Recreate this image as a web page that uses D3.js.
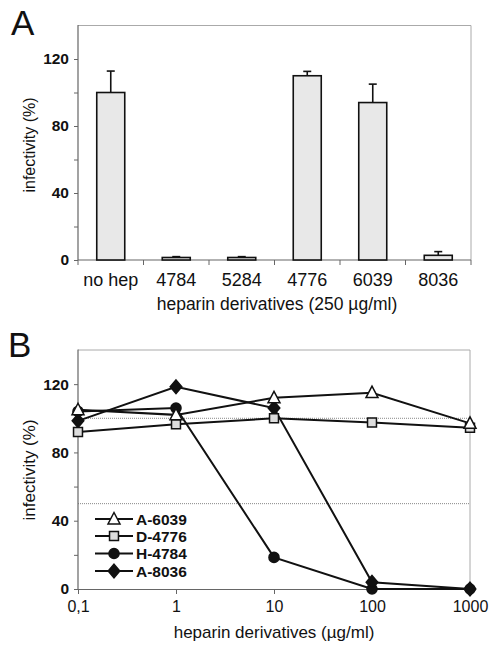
<!DOCTYPE html>
<html><head><meta charset="utf-8">
<script src="https://cdn.jsdelivr.net/npm/d3@7"></script>
<style>body{margin:0;background:#fff}svg{display:block;font-family:Arial,"Liberation Sans",sans-serif}</style>
</head><body>
<svg id="c" width="496" height="656"></svg>
<script>
// Panel A data
const catsA = ["no hep","4784","5284","4776","6039","8036"];
const valsA = [100, 1.5, 1.5, 110, 94, 2.8];
const errA  = [112.8, 2, 2, 112.6, 105, 5];
const yTicks = [0,40,80,120];
const yMinor = [20,60,100];
// Panel B data
const concB = [0.1, 1, 10, 100, 1000];
const concLabels = ["0,1","1","10","100","1000"];
const seriesNames = ["A-6039","D-4776","H-4784","A-8036"];
const sA6039 = [105, 102, 112, 115, 97];
const sD4776 = [92, 96.5, 100, 97.5, 94.5];
const sH4784 = [104, 106, 18.5, 0, 0];
const sA8036 = [98.5, 118.5, 106, 4, 0];
const gridB = [100, 50];

const svg = d3.select("#c");
const axisCol = "#666", borderCol = "#aaa";

// ---------- Panel A ----------
const A = {l:78, r:471, t:25.5, b:260};
const xA = d3.scaleBand().domain(catsA).range([A.l, A.r]).paddingInner(0).paddingOuter(0);
const yA = d3.scaleLinear().domain([0,140]).range([A.b, A.t]);
const gA = svg.append("g");
gA.append("path").attr("d",`M${A.l},${A.t}H${A.r}V${A.b}`).attr("fill","none").attr("stroke",borderCol).attr("stroke-width",1);
const yAxA = d3.axisLeft(yA).tickValues(yTicks.concat(yMinor)).tickSize(4).tickFormat(d=>yTicks.includes(d)?d:"");
const ga = gA.append("g").attr("transform",`translate(${A.l},0)`).call(yAxA);
ga.select(".domain").attr("stroke",axisCol).attr("stroke-width",1.2).attr("d",`M-0.5,${A.t}H0V${A.b}`);
ga.selectAll(".tick line").attr("stroke",axisCol);
ga.selectAll("text").attr("font-size",15.5).attr("font-weight","bold").attr("fill","#111").attr("x",-9);
gA.append("line").attr("x1",A.l).attr("x2",A.r).attr("y1",A.b).attr("y2",A.b).attr("stroke",axisCol).attr("stroke-width",1.2);
const bounds = catsA.map(c=>xA(c)).concat([A.r]);
gA.selectAll(".sep").data(bounds).join("line").attr("x1",d=>d).attr("x2",d=>d).attr("y1",A.b).attr("y2",A.b+5).attr("stroke",axisCol);
gA.selectAll(".cl").data(catsA).join("text").attr("x",d=>xA(d)+xA.bandwidth()/2).attr("y",A.b+26)
  .attr("text-anchor","middle").attr("font-size",18).attr("fill","#111").text(d=>d);
const bw = 28;
gA.selectAll(".err").data(catsA).join("g").each(function(d,i){
  const cx = xA(d)+xA.bandwidth()/2;
  const g = d3.select(this);
  g.append("line").attr("x1",cx).attr("x2",cx).attr("y1",yA(valsA[i])).attr("y2",yA(errA[i])).attr("stroke","#111").attr("stroke-width",1.6);
  g.append("line").attr("x1",cx-4).attr("x2",cx+4).attr("y1",yA(errA[i])).attr("y2",yA(errA[i])).attr("stroke","#111").attr("stroke-width",1.6);
});
gA.selectAll(".bar").data(catsA).join("rect")
  .attr("x",d=>xA(d)+xA.bandwidth()/2-bw/2).attr("width",bw)
  .attr("y",(d,i)=>yA(valsA[i])).attr("height",(d,i)=>A.b-yA(valsA[i]))
  .attr("fill","#e8e8e8").attr("stroke","#111").attr("stroke-width",1.6);
gA.append("text").attr("x",11).attr("y",35).attr("font-size",35).attr("fill","#111").text("A");
gA.append("text").attr("transform",`translate(35,145) rotate(-90)`).attr("text-anchor","middle").attr("font-size",16).attr("fill","#111").text("infectivity (%)");
gA.append("text").attr("x",277).attr("y",310).attr("text-anchor","middle").attr("font-size",17.5).attr("fill","#111").text("heparin derivatives (250 µg/ml)");

// ---------- Panel B ----------
const B = {l:78, r:470, t:350, b:589};
const xB = d3.scaleLog().domain([0.1,1000]).range([B.l, B.r]);
const yB = d3.scaleLinear().domain([0,140]).range([B.b, B.t]);
const gB = svg.append("g");
gB.append("path").attr("d",`M${B.l},${B.t}H${B.r}V${B.b}`).attr("fill","none").attr("stroke",borderCol).attr("stroke-width",1);
gB.selectAll(".grid").data(gridB).join("line").attr("x1",B.l).attr("x2",B.r).attr("y1",d=>yB(d)).attr("y2",d=>yB(d))
  .attr("stroke","#888").attr("stroke-width",1).attr("stroke-dasharray","1,1");
const gby = gB.append("g").attr("transform",`translate(${B.l},0)`).call(d3.axisLeft(yB).tickValues(yTicks.concat(yMinor)).tickSize(4).tickFormat(d=>yTicks.includes(d)?d:""));
gby.select(".domain").attr("stroke",axisCol).attr("stroke-width",1.2).attr("d",`M-0.5,${B.t}H0V${B.b}`);
gby.selectAll(".tick line").attr("stroke",axisCol);
gby.selectAll("text").attr("font-size",15.5).attr("font-weight","bold").attr("fill","#111").attr("x",-9);
const gbx = gB.append("g").attr("transform",`translate(0,${B.b})`).call(d3.axisBottom(xB).tickValues(concB).tickSize(5).tickFormat((d,i)=>concLabels[i]));
gbx.select(".domain").attr("stroke",axisCol).attr("stroke-width",1.2).attr("d",`M${B.l},0.5H${B.r}`);
gbx.selectAll(".tick line").attr("stroke",axisCol);
gbx.selectAll("text").attr("font-size",16).attr("fill","#111").attr("y",12);

const series = [sA6039, sD4776, sH4784, sA8036];
const diamond = {draw(ctx, size){ const w=5.8, h=6.8; ctx.moveTo(0,-h); ctx.lineTo(w,0); ctx.lineTo(0,h); ctx.lineTo(-w,0); ctx.closePath(); }};
const triangle = {draw(ctx, size){ const w=6, h=6.5; ctx.moveTo(0,-h); ctx.lineTo(w,h*0.75); ctx.lineTo(-w,h*0.75); ctx.closePath(); }};
const symTypes = [triangle, d3.symbolSquare, d3.symbolCircle, diamond];
const symSizes = [70, 80, 80, 80];
const symFill = ["#fff","#ddd","#111","#111"];
const line = d3.line().x((d,i)=>xB(concB[i])).y(d=>yB(d));
series.forEach((s,k)=>{
  gB.append("path").datum(s).attr("d",line).attr("fill","none").attr("stroke","#111").attr("stroke-width",2);
});
const drawOrder = [2,3,1,0];
drawOrder.forEach(k=>{
  gB.selectAll(".m"+k).data(series[k]).join("path")
    .attr("transform",(d,i)=>`translate(${xB(concB[i])},${yB(d)})`)
    .attr("d",d3.symbol().type(symTypes[k]).size(symSizes[k]))
    .attr("fill",symFill[k]).attr("stroke","#111").attr("stroke-width",1.5);
});
const legY = [519, 536, 553.5, 571];
seriesNames.forEach((n,k)=>{
  const g = gB.append("g").attr("transform",`translate(0,${legY[k]})`);
  g.append("line").attr("x1",95).attr("x2",133).attr("y1",0).attr("y2",0).attr("stroke","#111").attr("stroke-width",2);
  g.append("path").attr("transform","translate(114,0)").attr("d",d3.symbol().type(symTypes[k]).size(symSizes[k])).attr("fill",symFill[k]).attr("stroke","#111").attr("stroke-width",1.5);
  g.append("text").attr("x",136).attr("y",5.5).attr("font-size",15.5).attr("font-weight","bold").attr("fill","#111").text(n);
});
gB.append("text").attr("x",8).attr("y",357).attr("font-size",35).attr("fill","#111").text("B");
gB.append("text").attr("transform",`translate(35,470) rotate(-90)`).attr("text-anchor","middle").attr("font-size",17).attr("fill","#111").text("infectivity (%)");
gB.append("text").attr("x",274).attr("y",638).attr("text-anchor","middle").attr("font-size",17).attr("fill","#111").text("heparin derivatives (µg/ml)");
</script>
</body></html>
